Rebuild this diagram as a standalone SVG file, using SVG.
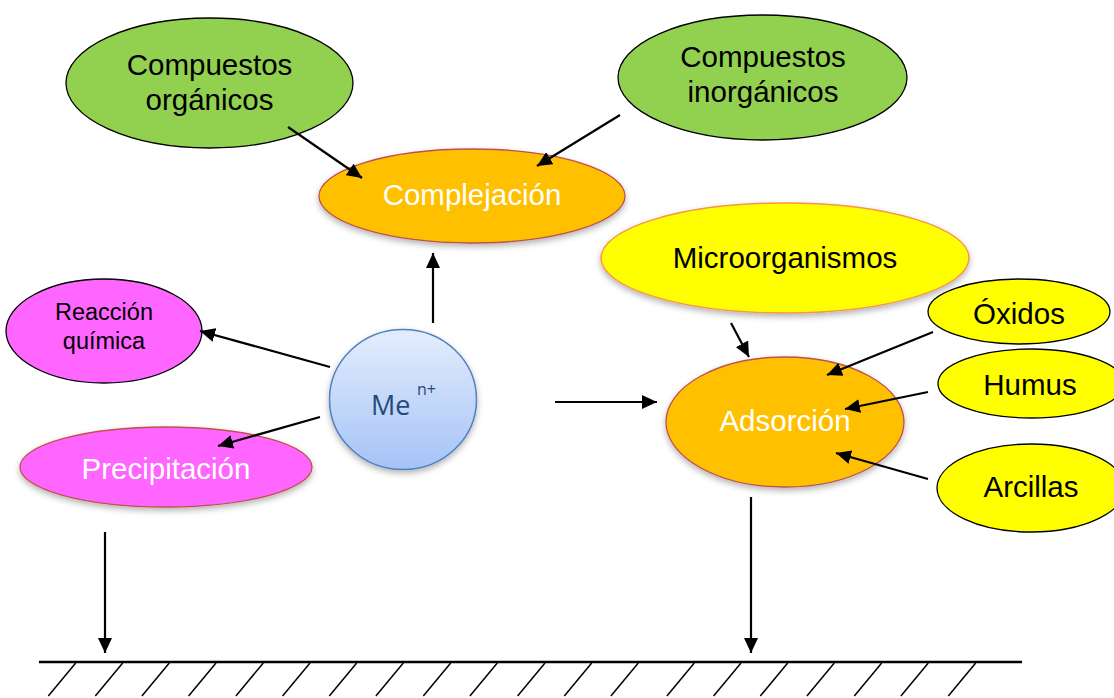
<svg xmlns="http://www.w3.org/2000/svg" width="1114" height="698" viewBox="0 0 1114 698">
<defs>
<style>
.t{font-family:"Liberation Sans",Arial,sans-serif;font-size:29.5px;text-anchor:middle;fill:#000}
.w{fill:#fff}
.c{stroke:#000;stroke-width:2.2;fill:none}
.g{fill:#92d050;stroke:#000;stroke-width:1.3}
.o{fill:#ffc000;stroke:#c0504d;stroke-width:1.3}
.y{fill:#ffff00;stroke:#000;stroke-width:1.3}
.m{fill:#ff66ff}
.h{stroke:#000;stroke-width:1.5}
</style>
<marker id="ah" markerUnits="userSpaceOnUse" markerWidth="15" markerHeight="14" refX="15" refY="7" orient="auto"><path d="M0,0 L15,7 L0,14 z" fill="#000"/></marker>
<filter id="sh" x="-20%" y="-20%" width="140%" height="150%"><feDropShadow dx="0" dy="3" stdDeviation="3" flood-color="#000" flood-opacity="0.3"/></filter>
<linearGradient id="bl" x1="0" y1="0" x2="0" y2="1"><stop offset="0" stop-color="#e4edfc"/><stop offset="1" stop-color="#a5c3f7"/></linearGradient>
</defs>
<g id="n-organicos"><ellipse class="g" cx="209.5" cy="83" rx="143.5" ry="65"/><text class="t" x="209.5" y="75">Compuestos</text><text class="t" x="209.5" y="110">orgánicos</text></g>
<g id="n-inorganicos"><ellipse class="g" cx="762.5" cy="77.5" rx="144.5" ry="62.5"/><text class="t" x="763" y="67">Compuestos</text><text class="t" x="763" y="102">inorgánicos</text></g>
<g id="n-complejacion"><ellipse class="o" cx="472" cy="196" rx="153" ry="47" filter="url(#sh)"/><text class="t w" x="472" y="205">Complejación</text></g>
<g id="n-microorganismos"><ellipse cx="785" cy="258" rx="184" ry="55" fill="#ffff00" stroke="#f79646" stroke-width="1.5" filter="url(#sh)"/><text class="t" x="785" y="268">Microorganismos</text></g>
<g id="n-reaccion"><ellipse class="m" cx="104" cy="331" rx="98" ry="52" stroke="#000" stroke-width="1.3"/><text class="t" style="font-size:23.5px" x="104" y="320">Reacción</text><text class="t" style="font-size:23.5px" x="104" y="349">química</text></g>
<g id="n-me"><ellipse cx="403" cy="399.5" rx="73.5" ry="70" fill="url(#bl)" stroke="#4f81bd" stroke-width="1.5" filter="url(#sh)"/><text x="371" y="415" font-family="'Open Sans',sans-serif" font-size="27" fill="#264a78">Me</text><text x="417" y="395" font-family="'Open Sans',sans-serif" font-size="16" fill="#264a78">n+</text></g>
<g id="n-precipitacion"><ellipse class="m" cx="166" cy="467" rx="146" ry="40" stroke="#c0504d" stroke-width="1.3" filter="url(#sh)"/><text class="t w" x="166" y="479">Precipitación</text></g>
<g id="n-adsorcion"><ellipse class="o" cx="785" cy="422" rx="119" ry="65" filter="url(#sh)"/><text class="t w" x="785" y="431">Adsorción</text></g>
<g id="n-oxidos"><ellipse class="y" cx="1019" cy="311.5" rx="91" ry="32.5"/><text class="t" x="1019" y="324">Óxidos</text></g>
<g id="n-humus"><ellipse class="y" cx="1031" cy="383.5" rx="93" ry="34.5"/><text class="t" x="1030" y="395">Humus</text></g>
<g id="n-arcillas"><ellipse class="y" cx="1031" cy="488" rx="94" ry="44"/><text class="t" x="1031" y="497">Arcillas</text></g>
<g id="connectors">
<line class="c" x1="288" y1="127" x2="362" y2="178" marker-end="url(#ah)"/>
<line class="c" x1="620" y1="115" x2="537" y2="166" marker-end="url(#ah)"/>
<line class="c" x1="433" y1="323" x2="433" y2="253" marker-end="url(#ah)"/>
<line class="c" x1="330" y1="367" x2="200" y2="331" marker-end="url(#ah)"/>
<line class="c" x1="320" y1="417" x2="218" y2="446" marker-end="url(#ah)"/>
<line class="c" x1="555" y1="402" x2="657" y2="402" marker-end="url(#ah)"/>
<line class="c" x1="731" y1="323" x2="749" y2="357" marker-end="url(#ah)"/>
<line class="c" x1="933" y1="332" x2="827" y2="375" marker-end="url(#ah)"/>
<line class="c" x1="928" y1="392" x2="845" y2="409" marker-end="url(#ah)"/>
<line class="c" x1="928" y1="479" x2="836" y2="453" marker-end="url(#ah)"/>
<line class="c" x1="105" y1="532" x2="105" y2="653" marker-end="url(#ah)"/>
<line class="c" x1="751" y1="497" x2="751" y2="653" marker-end="url(#ah)"/>
</g>
<g id="ground">
<line x1="39" y1="662" x2="1022" y2="662" stroke="#000" stroke-width="2.5"/>
<g class="h">
<line x1="75.7" y1="663" x2="48.3" y2="696"/>
<line x1="122.7" y1="663" x2="95.3" y2="696"/>
<line x1="169.3" y1="663" x2="141.9" y2="696"/>
<line x1="216" y1="663" x2="188.6" y2="696"/>
<line x1="263.3" y1="663" x2="235.9" y2="696"/>
<line x1="310" y1="663" x2="282.6" y2="696"/>
<line x1="356.7" y1="663" x2="329.3" y2="696"/>
<line x1="403.3" y1="663" x2="375.9" y2="696"/>
<line x1="450.7" y1="663" x2="423.3" y2="696"/>
<line x1="497.3" y1="663" x2="469.9" y2="696"/>
<line x1="545" y1="663" x2="517.6" y2="696"/>
<line x1="591.7" y1="663" x2="564.3" y2="696"/>
<line x1="638.3" y1="663" x2="610.9" y2="696"/>
<line x1="694.3" y1="663" x2="666.9" y2="696"/>
<line x1="741" y1="663" x2="713.6" y2="696"/>
<line x1="787.7" y1="663" x2="760.3" y2="696"/>
<line x1="834.3" y1="663" x2="806.9" y2="696"/>
<line x1="881.7" y1="663" x2="854.3" y2="696"/>
<line x1="928.3" y1="663" x2="900.9" y2="696"/>
<line x1="975.7" y1="663" x2="948.3" y2="696"/>
</g>
</g>
</svg>
